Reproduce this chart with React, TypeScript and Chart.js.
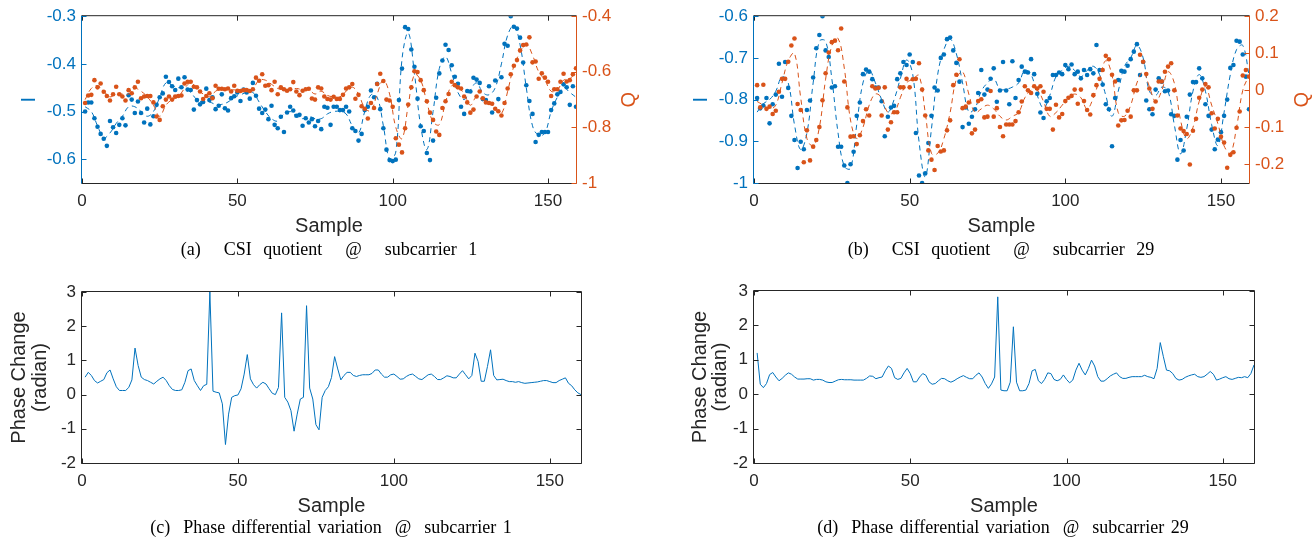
import React, { useEffect, useRef } from "react";
import { Chart, registerables } from "chart.js";
Chart.register(...registerables);

const BLUE = "#0072BD";
const ORANGE = "#D95319";
const DARK = "#262626";
const SANS = "'Liberation Sans', Arial, Helvetica, sans-serif";
const SERIF = "'Liberation Serif', 'Times New Roman', serif";

// ---------- sample indices ----------
const TOP_SAMPLES = Array.from({ length: 159 }, (_, i) => i + 1);
const BOTTOM_SAMPLES = Array.from({ length: 160 }, (_, i) => i + 1);
const FIT_SAMPLES = Array.from({ length: 80 }, (_, i) => 2 * i + 1);

// ---------- tick labels ----------
const X_TICKS = [0, 50, 100, 150];
const A_I_TICKS = [-0.6, -0.5, -0.4, -0.3];
const A_Q_TICKS = [-1, -0.8, -0.6, -0.4];
const B_I_TICKS = [-1, -0.9, -0.8, -0.7, -0.6];
const B_Q_TICKS = [-0.2, -0.1, 0, 0.1, 0.2];
const PHASE_TICKS = [-2, -1, 0, 1, 2, 3];

// ---------- (a) CSI quotient @ subcarrier 1 ----------
const A_I = [
  -0.500, -0.481, -0.481, -0.514, -0.532, -0.547, -0.557, -0.572, -0.520, -0.533,
  -0.545, -0.528, -0.514, -0.529, -0.466, -0.475, -0.503, -0.479, -0.503, -0.523,
  -0.494, -0.527, -0.510, -0.486, -0.470, -0.462, -0.427, -0.438, -0.447, -0.455,
  -0.431, -0.449, -0.428, -0.454, -0.455, -0.496, -0.476, -0.485, -0.480, -0.452,
  -0.476, -0.470, -0.495, -0.488, -0.464, -0.493, -0.498, -0.472, -0.468, -0.460,
  -0.478, -0.454, -0.460, -0.473, -0.440, -0.467, -0.494, -0.503, -0.496, -0.516,
  -0.488, -0.528, -0.535, -0.511, -0.543, -0.502, -0.490, -0.498, -0.509, -0.507,
  -0.530, -0.514, -0.523, -0.516, -0.531, -0.520, -0.537, -0.490, -0.492, -0.528,
  -0.490, -0.490, -0.497, -0.497, -0.490, -0.500, -0.535, -0.541, -0.561, -0.547,
  -0.497, -0.490, -0.456, -0.470, -0.442, -0.495, -0.535, -0.580, -0.602, -0.604,
  -0.601, -0.476, -0.410, -0.323, -0.327, -0.370, -0.406, -0.473, -0.531, -0.541,
  -0.587, -0.602, -0.561, -0.471, -0.420, -0.393, -0.360, -0.371, -0.403, -0.427,
  -0.442, -0.490, -0.505, -0.457, -0.458, -0.429, -0.433, -0.440, -0.474, -0.476,
  -0.447, -0.502, -0.435, -0.474, -0.428, -0.358, -0.362, -0.300, -0.322, -0.326,
  -0.345, -0.397, -0.445, -0.478, -0.505, -0.564, -0.549, -0.543, -0.543, -0.543,
  -0.497, -0.483, -0.464, -0.459, -0.443, -0.449, -0.486, -0.447, -0.490,
];
const A_Q = [
  -0.712, -0.685, -0.683, -0.630, -0.656, -0.642, -0.672, -0.687, -0.703, -0.681,
  -0.654, -0.681, -0.689, -0.703, -0.666, -0.677, -0.656, -0.636, -0.695, -0.689,
  -0.687, -0.687, -0.710, -0.761, -0.773, -0.724, -0.700, -0.689, -0.700, -0.689,
  -0.687, -0.685, -0.642, -0.636, -0.636, -0.654, -0.656, -0.671, -0.698, -0.687,
  -0.677, -0.695, -0.650, -0.661, -0.661, -0.663, -0.660, -0.671, -0.650, -0.668,
  -0.669, -0.666, -0.666, -0.669, -0.663, -0.621, -0.632, -0.609, -0.650, -0.648,
  -0.666, -0.636, -0.681, -0.656, -0.663, -0.668, -0.663, -0.637, -0.671, -0.684,
  -0.668, -0.663, -0.661, -0.696, -0.700, -0.656, -0.660, -0.689, -0.698, -0.700,
  -0.690, -0.698, -0.698, -0.683, -0.660, -0.656, -0.644, -0.697, -0.683, -0.724,
  -0.733, -0.768, -0.712, -0.730, -0.644, -0.607, -0.633, -0.700, -0.703, -0.726,
  -0.839, -0.862, -0.890, -0.803, -0.718, -0.656, -0.598, -0.601, -0.630, -0.666,
  -0.706, -0.747, -0.773, -0.815, -0.827, -0.730, -0.706, -0.680, -0.636, -0.648,
  -0.656, -0.660, -0.689, -0.710, -0.747, -0.736, -0.689, -0.671, -0.695, -0.710,
  -0.712, -0.715, -0.733, -0.742, -0.757, -0.712, -0.660, -0.609, -0.578, -0.558,
  -0.523, -0.504, -0.502, -0.476, -0.566, -0.563, -0.625, -0.605, -0.621, -0.636,
  -0.687, -0.663, -0.663, -0.636, -0.607, -0.635, -0.630, -0.609, -0.587,
];
const A_I_FIT = [
  -0.49, -0.50, -0.53, -0.555, -0.545, -0.525, -0.51, -0.49, -0.49, -0.50,
  -0.51, -0.50, -0.47, -0.44, -0.445, -0.45, -0.45, -0.46, -0.475, -0.48,
  -0.48, -0.485, -0.485, -0.48, -0.47, -0.465, -0.46, -0.46, -0.48, -0.50,
  -0.515, -0.52, -0.505, -0.50, -0.51, -0.515, -0.51, -0.515, -0.515, -0.505,
  -0.50, -0.50, -0.505, -0.53, -0.545, -0.50, -0.465, -0.47, -0.53, -0.60,
  -0.585, -0.39, -0.335, -0.42, -0.53, -0.58, -0.50, -0.41, -0.385, -0.42,
  -0.46, -0.475, -0.455, -0.44, -0.46, -0.465, -0.45, -0.40, -0.34, -0.32,
  -0.36, -0.45, -0.53, -0.55, -0.545, -0.50, -0.47, -0.45, -0.46, -0.47,
];
const A_Q_FIT = [
  -0.70, -0.66, -0.65, -0.67, -0.69, -0.68, -0.68, -0.68, -0.66, -0.67,
  -0.69, -0.72, -0.76, -0.72, -0.70, -0.69, -0.66, -0.64, -0.66, -0.68,
  -0.69, -0.67, -0.66, -0.665, -0.665, -0.665, -0.665, -0.66, -0.63, -0.63,
  -0.645, -0.66, -0.665, -0.665, -0.66, -0.665, -0.665, -0.68, -0.67, -0.685,
  -0.69, -0.69, -0.67, -0.655, -0.68, -0.73, -0.74, -0.68, -0.63, -0.68,
  -0.80, -0.84, -0.72, -0.61, -0.63, -0.71, -0.78, -0.79, -0.71, -0.65,
  -0.655, -0.68, -0.72, -0.69, -0.70, -0.71, -0.73, -0.75, -0.67, -0.58,
  -0.53, -0.50, -0.54, -0.60, -0.63, -0.67, -0.665, -0.63, -0.625, -0.60,
];

// ---------- (b) CSI quotient @ subcarrier 29 ----------
const B_I = [
  -0.796, -0.821, -0.814, -0.796, -0.857, -0.811, -0.788, -0.714, -0.793, -0.710,
  -0.772, -0.839, -0.897, -0.964, -0.901, -0.919, -0.825, -0.802, -0.747, -0.677,
  -0.645, -0.600, -0.682, -0.698, -0.771, -0.768, -0.913, -0.913, -0.958, -1.000,
  -0.955, -0.925, -0.839, -0.807, -0.739, -0.728, -0.733, -0.751, -0.771, -0.771,
  -0.804, -0.888, -0.841, -0.819, -0.815, -0.751, -0.737, -0.710, -0.717, -0.692,
  -0.710, -0.880, -0.982, -1.000, -0.977, -0.904, -0.839, -0.771, -0.778, -0.700,
  -0.692, -0.655, -0.651, -0.682, -0.712, -0.757, -0.866, -0.819, -0.858, -0.841,
  -0.823, -0.784, -0.729, -0.788, -0.776, -0.750, -0.725, -0.805, -0.778, -0.710,
  -0.778, -0.811, -0.708, -0.796, -0.753, -0.721, -0.733, -0.735, -0.703, -0.739,
  -0.786, -0.831, -0.844, -0.804, -0.796, -0.741, -0.741, -0.735, -0.739, -0.717,
  -0.727, -0.716, -0.739, -0.733, -0.749, -0.729, -0.741, -0.727, -0.737, -0.669,
  -0.729, -0.764, -0.811, -0.823, -0.912, -0.796, -0.753, -0.731, -0.733, -0.719,
  -0.703, -0.685, -0.667, -0.741, -0.710, -0.802, -0.823, -0.835, -0.776, -0.749,
  -0.757, -0.780, -0.778, -0.835, -0.839, -0.944, -0.897, -0.922, -0.841, -0.788,
  -0.758, -0.758, -0.725, -0.749, -0.811, -0.839, -0.872, -0.919, -0.896, -0.878,
  -0.839, -0.800, -0.724, -0.717, -0.659, -0.661, -0.692, -0.745, -0.823,
];
const B_Q = [
  0.014, -0.046, 0.015, -0.050, -0.044, -0.064, -0.055, -0.004, 0.031, 0.031,
  0.077, 0.121, 0.140, -0.037, -0.053, -0.194, -0.108, -0.189, -0.152, -0.134,
  -0.099, -0.027, 0.046, 0.102, 0.130, 0.134, 0.108, 0.167, 0.024, -0.046,
  -0.125, -0.124, -0.145, -0.121, -0.083, -0.051, -0.068, 0.011, 0.005, 0.007,
  -0.068, 0.008, -0.106, -0.086, -0.059, -0.059, 0.008, 0.008, 0.031, 0.008,
  0.030, 0.031, 0.073, 0.002, -0.068, -0.162, -0.187, -0.215, -0.150, -0.165,
  -0.162, -0.108, -0.081, 0.014, 0.042, 0.084, -0.048, -0.044, -0.033, -0.116,
  -0.106, -0.029, -0.024, -0.073, -0.071, -0.002, -0.071, -0.048, -0.099, -0.124,
  -0.092, -0.092, -0.092, -0.083, -0.059, -0.030, 0.011, 0.000, -0.007, 0.011,
  0.005, 0.011, -0.004, -0.050, -0.050, -0.106, -0.039, -0.073, -0.064, -0.029,
  -0.020, -0.015, 0.002, -0.036, 0.002, -0.029, -0.053, -0.065, -0.013, 0.014,
  0.031, 0.055, 0.093, 0.084, 0.042, 0.024, -0.095, -0.081, -0.080, -0.055,
  -0.071, 0.000, 0.000, 0.096, 0.077, 0.044, 0.005, -0.050, -0.030, 0.024,
  0.024, 0.050, 0.064, 0.073, 0.000, -0.068, -0.103, -0.110, -0.118, -0.200,
  -0.109, -0.077, -0.020, 0.002, 0.017, 0.008, -0.062, -0.103, -0.077, -0.125,
  -0.141, -0.209, -0.174, -0.167, -0.101, -0.057, 0.040, 0.055, 0.037,
];
const B_I_FIT = [
  -0.83, -0.81, -0.80, -0.78, -0.745, -0.76, -0.86, -0.92, -0.88, -0.76,
  -0.66, -0.66, -0.75, -0.88, -0.96, -0.965, -0.86, -0.76, -0.73, -0.76,
  -0.80, -0.83, -0.80, -0.75, -0.705, -0.74, -0.90, -0.985, -0.87, -0.74,
  -0.68, -0.655, -0.69, -0.76, -0.83, -0.82, -0.78, -0.76, -0.75, -0.775,
  -0.775, -0.77, -0.76, -0.73, -0.74, -0.79, -0.82, -0.79, -0.745, -0.73,
  -0.72, -0.73, -0.745, -0.73, -0.72, -0.74, -0.79, -0.84, -0.78, -0.72,
  -0.70, -0.67, -0.70, -0.78, -0.79, -0.77, -0.78, -0.86, -0.93, -0.87,
  -0.78, -0.74, -0.78, -0.86, -0.91, -0.83, -0.74, -0.68, -0.67, -0.74,
];
const B_Q_FIT = [
  -0.03, -0.04, -0.05, -0.04, 0.02, 0.08, 0.10, -0.02, -0.13, -0.15,
  -0.10, 0.03, 0.12, 0.14, 0.06, -0.08, -0.13, -0.10, -0.04, -0.01,
  -0.02, -0.06, -0.06, -0.02, 0.02, 0.03, 0.04, -0.06, -0.17, -0.17,
  -0.13, -0.06, 0.03, 0.05, -0.01, -0.06, -0.05, -0.04, -0.05, -0.07,
  -0.08, -0.07, -0.06, -0.02, 0.00, 0.00, -0.03, -0.07, -0.06, -0.04,
  -0.02, -0.01, -0.02, -0.05, -0.02, 0.03, 0.08, 0.04, -0.06, -0.07,
  -0.04, 0.02, 0.05, 0.01, -0.03, 0.00, 0.05, 0.02, -0.08, -0.13,
  -0.10, -0.03, 0.01, -0.04, -0.09, -0.15, -0.17, -0.10, 0.00, 0.04,
];

// ---------- (c) Phase differential variation @ subcarrier 1 ----------
const C_PHASE = [
  0.51, 0.65, 0.56, 0.41, 0.34, 0.39, 0.44, 0.64, 0.72, 0.46,
  0.23, 0.12, 0.12, 0.12, 0.21, 0.43, 1.36, 0.85, 0.51, 0.44,
  0.41, 0.36, 0.31, 0.39, 0.46, 0.51, 0.41, 0.26, 0.15, 0.12,
  0.12, 0.14, 0.36, 0.70, 0.75, 0.41, 0.26, 0.12, 0.26, 0.30,
  3.00, 0.10, 0.07, 0.05, -0.27, -1.46, -0.57, -0.08, -0.03, -0.01,
  0.17, 0.60, 1.17, 0.46, 0.29, 0.19, 0.29, 0.36, 0.31, 0.17,
  0.04, 0.00, 0.21, 2.39, -0.08, -0.22, -0.47, -1.07, -0.57, -0.13,
  -0.08, 2.60, 0.19, -0.13, -0.88, -1.03, -0.08, 0.12, 0.23, 0.50,
  1.11, 0.75, 0.43, 0.56, 0.65, 0.65, 0.56, 0.53, 0.56, 0.58,
  0.58, 0.58, 0.62, 0.72, 0.72, 0.60, 0.51, 0.51, 0.58, 0.60,
  0.53, 0.45, 0.46, 0.53, 0.58, 0.60, 0.53, 0.46, 0.44, 0.51,
  0.58, 0.60, 0.53, 0.44, 0.44, 0.49, 0.55, 0.53, 0.49, 0.49,
  0.60, 0.70, 0.58, 0.46, 0.56, 1.21, 0.97, 0.39, 0.39, 0.82,
  1.31, 0.56, 0.43, 0.44, 0.45, 0.41, 0.38, 0.38, 0.36, 0.38,
  0.35, 0.33, 0.34, 0.35, 0.36, 0.37, 0.39, 0.41, 0.41, 0.38,
  0.35, 0.35, 0.41, 0.45, 0.49, 0.33, 0.26, 0.14, 0.05, 0.00,
];

// ---------- (d) Phase differential variation @ subcarrier 29 ----------
const D_PHASE = [
  1.20, 0.29, 0.19, 0.31, 0.57, 0.63, 0.50, 0.39, 0.46, 0.55,
  0.62, 0.58, 0.50, 0.44, 0.44, 0.44, 0.45, 0.45, 0.41, 0.43,
  0.43, 0.41, 0.36, 0.34, 0.34, 0.38, 0.42, 0.43, 0.42, 0.42,
  0.42, 0.41, 0.41, 0.41, 0.41, 0.46, 0.53, 0.52, 0.45, 0.48,
  0.50, 0.68, 0.82, 0.75, 0.48, 0.43, 0.46, 0.62, 0.75, 0.60,
  0.36, 0.36, 0.50, 0.60, 0.55, 0.36, 0.29, 0.31, 0.39, 0.46,
  0.45, 0.39, 0.35, 0.39, 0.45, 0.50, 0.54, 0.49, 0.45, 0.45,
  0.55, 0.62, 0.50, 0.31, 0.17, 0.30, 0.50, 2.83, 0.12, 0.10,
  0.10, 0.35, 1.96, 0.35, 0.10, 0.10, 0.12, 0.31, 0.68, 0.72,
  0.39, 0.31, 0.43, 0.62, 0.60, 0.43, 0.39, 0.43, 0.56, 0.43,
  0.33, 0.41, 0.70, 0.90, 0.70, 0.56, 0.75, 0.99, 0.82, 0.51,
  0.38, 0.38, 0.45, 0.53, 0.58, 0.62, 0.51, 0.46, 0.46, 0.49,
  0.51, 0.51, 0.51, 0.51, 0.55, 0.51, 0.49, 0.45, 0.75, 1.50,
  1.09, 0.70, 0.68, 0.60, 0.46, 0.41, 0.43, 0.49, 0.53, 0.56,
  0.58, 0.51, 0.49, 0.51, 0.58, 0.66, 0.58, 0.41, 0.44, 0.48,
  0.51, 0.45, 0.43, 0.46, 0.49, 0.48, 0.51, 0.48, 0.60, 0.85,
];

const pts = (xs: number[], ys: number[]) => xs.map((x, k) => ({ x, y: ys[k] }));
const fmt = (v: number) => String(Math.round(v * 100) / 100);

type Title = { text: string; x: (a: any) => number; y: (a: any) => number; color: string; rotate: boolean };

function axesPlugin(leftColor: string, rightColor: string, hasY1: boolean, titles: Title[]) {
  return {
    id: "matlabAxes",
    afterDatasetsDraw(chart: any) {
      const { ctx, chartArea: a, scales } = chart;
      const L = a.left - 0.5, R = a.right + 0.5, T = a.top - 0.5, B = a.bottom + 0.5;
      const TL = 5;
      ctx.save();
      ctx.lineWidth = 1;
      ctx.strokeStyle = DARK;
      ctx.beginPath();
      ctx.moveTo(L, T); ctx.lineTo(R, T);
      ctx.moveTo(L, B); ctx.lineTo(R, B);
      ctx.stroke();
      ctx.strokeStyle = leftColor;
      ctx.beginPath(); ctx.moveTo(L, T); ctx.lineTo(L, B); ctx.stroke();
      ctx.strokeStyle = rightColor;
      ctx.beginPath(); ctx.moveTo(R, T); ctx.lineTo(R, B); ctx.stroke();
      ctx.strokeStyle = DARK;
      ctx.beginPath();
      for (const t of scales.x.ticks) {
        const px = Math.round(scales.x.getPixelForValue(t.value)) + 0.5;
        ctx.moveTo(px, B); ctx.lineTo(px, B - TL);
        ctx.moveTo(px, T); ctx.lineTo(px, T + TL);
      }
      ctx.stroke();
      ctx.strokeStyle = leftColor;
      ctx.beginPath();
      for (const t of scales.y.ticks) {
        const py = Math.round(scales.y.getPixelForValue(t.value)) + 0.5;
        ctx.moveTo(L, py); ctx.lineTo(L + TL, py);
      }
      ctx.stroke();
      const rs = hasY1 ? scales.y1 : scales.y;
      ctx.strokeStyle = rightColor;
      ctx.beginPath();
      for (const t of rs.ticks) {
        const py = Math.round(rs.getPixelForValue(t.value)) + 0.5;
        ctx.moveTo(R, py); ctx.lineTo(R - TL, py);
      }
      ctx.stroke();
      ctx.font = `20px ${SANS}`;
      ctx.textAlign = "center";
      ctx.textBaseline = "middle";
      for (const tt of titles) {
        ctx.save();
        ctx.fillStyle = tt.color;
        ctx.translate(tt.x(a), tt.y(a));
        if (tt.rotate) ctx.rotate(-Math.PI / 2);
        ctx.fillText(tt.text, 0, 0);
        ctx.restore();
      }
      ctx.restore();
    },
  };
}

function tickFont() {
  return { family: SANS, size: 17 };
}

function xScale(max: number, h: number) {
  return {
    type: "linear",
    min: 0,
    max,
    grid: { display: false, drawTicks: false },
    border: { display: false },
    ticks: { font: tickFont(), color: DARK, padding: 8, maxRotation: 0, autoSkip: false, callback: (v: any) => fmt(v) },
    afterBuildTicks: (s: any) => { s.ticks = X_TICKS.map((v) => ({ value: v })); },
    afterFit: (s: any) => { s.height = h; },
  };
}

function yScale(pos: string, min: number, max: number, ticks: number[], color: string, w: number) {
  return {
    type: "linear",
    position: pos,
    min,
    max,
    grid: { display: false, drawTicks: false },
    border: { display: false },
    ticks: { font: tickFont(), color, padding: 6, autoSkip: false, callback: (v: any) => fmt(v) },
    afterBuildTicks: (s: any) => { s.ticks = ticks.map((v) => ({ value: v })); },
    afterFit: (s: any) => { s.width = w; },
  };
}

const sampleTitle: Title = { text: "Sample", x: (a) => (a.left + a.right) / 2, y: (a) => a.bottom + 43, color: DARK, rotate: false };

function topConfig(p: any) {
  return {
    type: "line",
    data: {
      datasets: [
        { yAxisID: "y1", data: pts(TOP_SAMPLES, p.q), showLine: false, pointRadius: 2.3, pointBackgroundColor: ORANGE, pointBorderWidth: 0 },
        { yAxisID: "y1", data: pts(FIT_SAMPLES, p.qFit), borderColor: ORANGE, borderWidth: 1, borderDash: [5, 4], pointRadius: 0, tension: 0.4, fill: false },
        { yAxisID: "y", data: pts(TOP_SAMPLES, p.i), showLine: false, pointRadius: 2.3, pointBackgroundColor: BLUE, pointBorderWidth: 0 },
        { yAxisID: "y", data: pts(FIT_SAMPLES, p.iFit), borderColor: BLUE, borderWidth: 1, borderDash: [5, 4], pointRadius: 0, tension: 0.4, fill: false },
      ],
    },
    options: {
      animation: false,
      responsive: false,
      events: [],
      layout: { padding: { top: p.top, left: 0, right: 0, bottom: 0 } },
      plugins: { legend: { display: false }, tooltip: { enabled: false } },
      scales: {
        x: xScale(159, p.xh),
        y: yScale("left", p.iMin, p.iMax, p.iTicks, BLUE, p.yw),
        y1: yScale("right", p.qMin, p.qMax, p.qTicks, ORANGE, p.y1w),
      },
    },
    plugins: [
      axesPlugin(BLUE, ORANGE, true, [
        sampleTitle,
        { text: "I", x: (a) => a.left - 52.5, y: (a) => (a.top + a.bottom) / 2, color: BLUE, rotate: true },
        { text: "Q", x: (a) => a.right + 53, y: (a) => (a.top + a.bottom) / 2, color: ORANGE, rotate: true },
      ]),
    ],
  };
}

function bottomConfig(p: any) {
  return {
    type: "line",
    data: {
      datasets: [
        { data: pts(BOTTOM_SAMPLES, p.v), borderColor: BLUE, borderWidth: 1, pointRadius: 0, tension: 0, fill: false },
      ],
    },
    options: {
      animation: false,
      responsive: false,
      events: [],
      layout: { padding: { top: p.top, left: 0, right: p.right, bottom: 0 } },
      plugins: { legend: { display: false }, tooltip: { enabled: false } },
      scales: {
        x: xScale(160, p.xh),
        y: yScale("left", -2, 3, PHASE_TICKS, DARK, p.yw),
      },
    },
    plugins: [
      axesPlugin(DARK, DARK, false, [
        sampleTitle,
        { text: "Phase Change", x: (a) => a.left - p.l1, y: (a) => (a.top + a.bottom) / 2, color: DARK, rotate: true },
        { text: "(radian)", x: (a) => a.left - p.l2, y: (a) => (a.top + a.bottom) / 2, color: DARK, rotate: true },
      ]),
    ],
  };
}

function Panel({ left, top, width, height, config }: any) {
  const ref = useRef<HTMLCanvasElement>(null);
  useEffect(() => {
    const chart = new Chart(ref.current as HTMLCanvasElement, config);
    return () => chart.destroy();
  }, []);
  return (
    <canvas
      ref={ref}
      width={width}
      height={height}
      style={{ position: "absolute", left, top, width, height }}
    />
  );
}

function Caption({ cx, cy, text, ws }: any) {
  return (
    <div
      style={{
        position: "absolute",
        left: cx - 300,
        top: cy - 11,
        width: 600,
        height: 22,
        lineHeight: "22px",
        textAlign: "center",
        fontFamily: SERIF,
        fontSize: 18,
        color: "#000",
        whiteSpace: "pre",
        wordSpacing: ws,
      }}
    >
      {text}
    </div>
  );
}

const cfgA = topConfig({ q: A_Q, qFit: A_Q_FIT, i: A_I, iFit: A_I_FIT, top: 14, xh: 57, yw: 82, y1w: 84, iMin: -0.65, iMax: -0.3, iTicks: A_I_TICKS, qMin: -1, qMax: -0.4, qTicks: A_Q_TICKS });
const cfgB = topConfig({ q: B_Q, qFit: B_Q_FIT, i: B_I, iFit: B_I_FIT, top: 14, xh: 57, yw: 84, y1w: 65, iMin: -1, iMax: -0.6, iTicks: B_I_TICKS, qMin: -0.25, qMax: 0.2, qTicks: B_Q_TICKS });
const cfgC = bottomConfig({ v: C_PHASE, top: 22, right: 79, xh: 69, yw: 82, l1: 62.5, l2: 41.5 });
const cfgD = bottomConfig({ v: D_PHASE, top: 21, right: 60, xh: 69, yw: 84, l1: 54, l2: 34 });

export default function App() {
  return (
    <div style={{ position: "fixed", left: 0, top: 0, width: 1314, height: 542, background: "#fff", overflow: "hidden" }}>
      <Panel left={0} top={0} width={660} height={240} config={cfgA} />
      <Panel left={670} top={0} width={644} height={240} config={cfgB} />
      <Panel left={0} top={270} width={660} height={262} config={cfgC} />
      <Panel left={670} top={270} width={644} height={262} config={cfgD} />
      <Caption cx={329} cy={249} ws={7} text="(a)  CSI quotient  @  subcarrier 1" />
      <Caption cx={1001} cy={249} ws={7} text="(b)  CSI quotient  @  subcarrier 29" />
      <Caption cx={331} cy={527} ws={2} text="(c)  Phase differential variation  @  subcarrier 1" />
      <Caption cx={1003} cy={527} ws={2} text="(d)  Phase differential variation  @  subcarrier 29" />
    </div>
  );
}
